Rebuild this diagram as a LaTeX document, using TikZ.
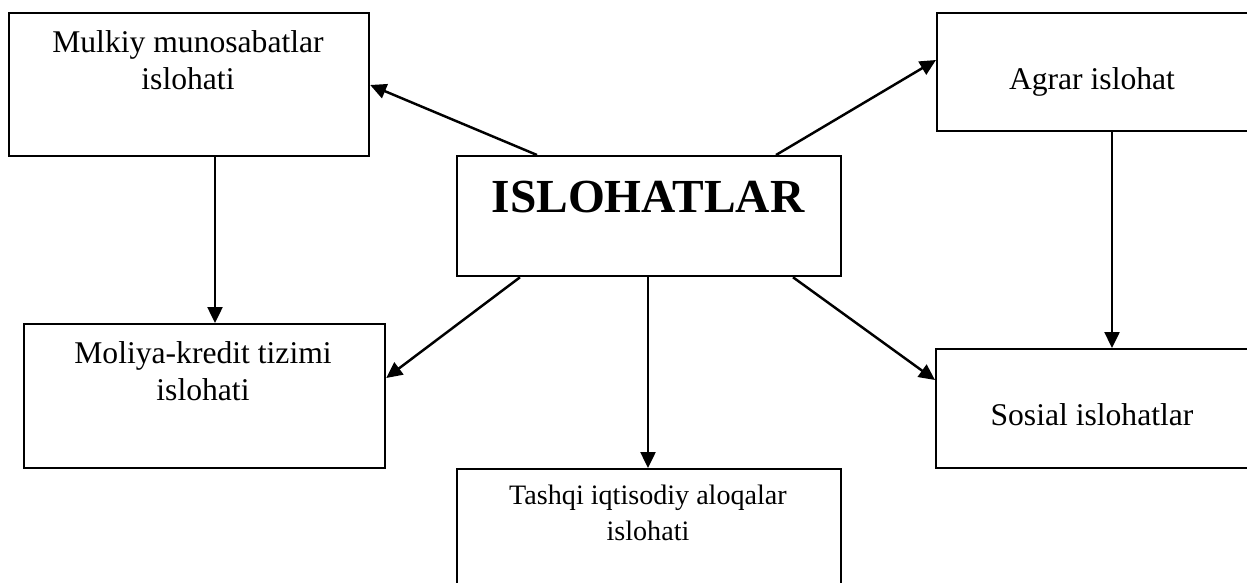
\documentclass[tikz,border=0pt]{standalone}
\usepackage{fontspec}
\setmainfont{Liberation Serif}
\usepackage{tikz}
\usetikzlibrary{positioning,calc,arrows.meta}
\tikzstyle{bx}= [draw, line width=1.3pt, anchor=north west, inner sep=0pt]
\tikzstyle{txt}= [anchor=base, align=center, inner sep=0pt, font=\fontsize{18}{21}\selectfont]
\tikzstyle{arw}= [-{Triangle[length=0.32cm,width=0.3cm]}, line width=1.4pt]

\begin{document}
\begin{tikzpicture}[x=0.02cm, y=-0.02cm]
				\useasboundingbox (0,0) rectangle (1247,582);
				\clip (0,0) rectangle (1247,582);
				\node[bx, minimum width=7.2cm, minimum height=2.86cm] (mulk) at (8, 12) {};
				\node[bx, minimum width=7.04cm, minimum height=2.36cm] (agr) at (936, 12) {};
				\node[bx, minimum width=7.68cm, minimum height=2.4cm] (isl) at (456, 155) {};
				\node[bx, minimum width=7.22cm, minimum height=2.88cm] (mol) at (23, 323) {};
				\node[bx, minimum width=7.04cm, minimum height=2.38cm] (sos) at (935, 348) {};
				\node[bx, minimum width=7.68cm, minimum height=3cm] (tsh) at (456, 468) {};
				\node[txt] (mulkt) at (188, 89) {Mulkiy munosabatlar\\islohati};
				\node[txt] (agrt) at (1092, 89) {Agrar islohat};
				\node[txt, font=\fontsize{27}{30}\selectfont\bfseries] (islt) at (648, 212) {ISLOHATLAR};
				\node[txt] (molt) at (203, 400) {Moliya-kredit tizimi\\islohati};
				\node[txt] (sost) at (1092, 425) {Sosial islohatlar};
				\node[txt, font=\fontsize{16}{20}\selectfont] (tsht) at (648, 540) {Tashqi iqtisodiy aloqalar\\islohati};
				\draw[arw] ($(isl.north west)+(81,0)$) -- ($(mulk.north east)+(0,73)$);
				\draw[arw] ($(isl.north west)+(320,0)$) -- ($(agr.north west)+(0,48)$);
				\draw[arw] ($(mulk.south west)+(207,0)$) -- ($(mol.north west)+(192,0)$);
				\draw[arw] ($(agr.south west)+(176,0)$) -- ($(sos.north west)+(177,0)$);
				\draw[arw] ($(isl.south west)+(64,0)$) -- ($(mol.north east)+(0,55)$);
				\draw[arw] ($(isl.south west)+(192,0)$) -- ($(tsh.north west)+(192,0)$);
				\draw[arw] ($(isl.south west)+(337,0)$) -- ($(sos.north west)+(0,32)$);
			\end{tikzpicture}
\end{document}
